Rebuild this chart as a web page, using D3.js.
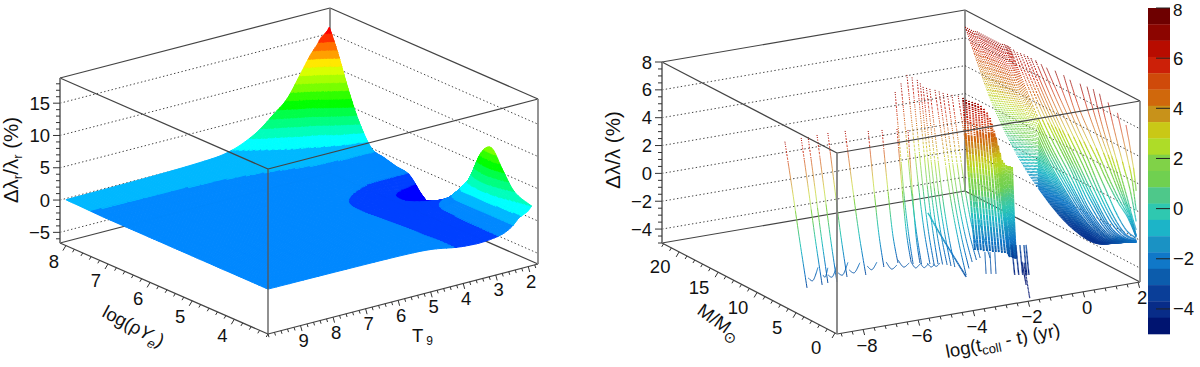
<!DOCTYPE html>
<html>
<head>
<meta charset="utf-8">
<script src="https://cdn.jsdelivr.net/npm/d3@7"></script>
<style>
	body { margin: 0; background: #fff; }
	text { font-family: "Liberation Sans", Arial, sans-serif; font-size: 18.5px; fill: #111; }
</style>
</head>
<body>
<script>
// ---------- left panel: surface ----------
var surfT = [1.9, 2.0, 2.15, 2.3, 2.5, 2.8, 3.2, 3.6, 4.2, 5, 6, 8, 10];
var surfRho = [3.2, 3.6, 3.9, 4.15, 4.4, 4.65, 4.9, 5.2, 5.5, 5.8, 6.1, 6.4, 6.7, 7.0, 7.3, 7.55, 7.8, 8.0];
var surfZ = [
	[2.6, 2.0, 1.6, 1.2, 0.2, -0.6, -0.95, -1.05, -0.8, -0.1, 0.15, 0.25, 0.3],
	[3.6, 2.9, 2.0, 1.2, 0.2, -0.6, -1.0, -1.1, -0.8, -0.1, 0.15, 0.25, 0.3],
	[6.4, 4.2, 2.6, 1.3, 0.2, -0.6, -1.05, -1.15, -0.85, -0.1, 0.15, 0.25, 0.3],
	[8.9, 5.5, 3.0, 1.4, 0.25, -0.6, -1.1, -1.2, -0.85, -0.1, 0.15, 0.25, 0.3],
	[7.4, 4.8, 2.7, 1.4, 0.25, -0.65, -1.15, -1.25, -0.9, -0.1, 0.15, 0.25, 0.3],
	[3.0, 2.4, 1.8, 1.1, 0.1, -0.75, -1.2, -1.3, -0.95, -0.1, 0.15, 0.25, 0.3],
	[-0.9, -0.7, -0.5, -0.55, -0.8, -1.1, -1.3, -1.35, -1.0, -0.1, 0.15, 0.25, 0.3],
	[-3.0, -2.4, -2.0, -1.8, -1.7, -1.6, -1.55, -1.45, -1.05, -0.15, 0.15, 0.25, 0.3],
	[-4.4, -3.6, -2.9, -2.5, -2.2, -1.9, -1.6, -1.4, -1.0, -0.15, 0.15, 0.25, 0.3],
	[-3.1, -2.7, -2.4, -2.2, -2.0, -1.75, -1.4, -1.15, -0.7, -0.1, 0.15, 0.25, 0.3],
	[-0.85, -0.85, -0.85, -0.85, -0.85, -0.85, -0.75, -0.55, -0.25, 0, 0.15, 0.25, 0.3],
	[-0.45, -0.4, -0.35, -0.3, -0.25, -0.2, -0.1, -0.05, 0.05, 0.1, 0.2, 0.25, 0.3],
	[0.1, 0.1, 0.05, 0.05, 0.05, 0.1, 0.15, 0.15, 0.18, 0.2, 0.22, 0.25, 0.3],
	[0.7, 0.7, 0.65, 0.6, 0.55, 0.5, 0.42, 0.38, 0.3, 0.25, 0.26, 0.28, 0.3],
	[4.0, 3.6, 3.0, 2.6, 2.2, 1.6, 1.25, 0.95, 0.6, 0.42, 0.35, 0.33, 0.33],
	[8.2, 7.4, 6.4, 5.4, 4.3, 3.0, 2.15, 1.7, 1.05, 0.55, 0.45, 0.4, 0.38],
	[13.2, 12.4, 11.1, 9.9, 8.2, 6.0, 4.4, 3.0, 1.8, 0.85, 0.6, 0.45, 0.42],
	[16.6, 15.9, 15.3, 14.2, 12.9, 10.4, 7.2, 5.4, 3.0, 1.3, 0.8, 0.55, 0.45]
];
var surfLevels = [-3.85, -1.85, -0.75, 0.35, 1.45, 2.55, 3.65, 4.75, 5.85, 6.95, 8.05, 9.15, 10.25, 11.35, 12.45, 13.55, 14.65, 15.75];
var surfColors = ["#3c00ff", "#0000ff", "#0040ff", "#0088ff", "#00b8ff", "#00ffff", "#00ffbc", "#00ff80", "#00ff48", "#00ff00",
	"#30ff00", "#78ff00", "#a8ff00", "#d8ff00", "#ffe800", "#ffa000", "#ff7000", "#ff3000", "#ff0000"];

// ---------- right panel: one row per curve ----------
// far group: t, top of mass range, then z at massFrac of that range
var massFrac = [1, 0.85, 0.7, 0.55, 0.4, 0.25, 0.12, 0];
var farRows = [
	[2.0, 21.9, 6.9, 2.6, -0.3, -2.2, -3.45, -3.8, -3.0, -2.1],
	[2.0, 21.65, 6.9, 2.65, -0.25, -2.15, -3.4, -3.78, -3.0, -2.1],
	[2.0, 21.4, 6.9, 2.7, -0.2, -2.1, -3.35, -3.75, -3.0, -2.1],
	[2.0, 21.15, 6.9, 2.75, -0.15, -2.05, -3.3, -3.72, -2.98, -2.1],
	[2.0, 20.9, 6.9, 2.8, -0.1, -2.0, -3.25, -3.7, -2.95, -2.1],
	[2.0, 20.65, 6.95, 2.85, -0.05, -1.95, -3.2, -3.68, -2.95, -2.1],
	[2.0, 20.4, 7.0, 2.9, 0.0, -1.9, -3.15, -3.65, -2.95, -2.1],
	[2.0, 20.15, 7.0, 2.95, 0.05, -1.85, -3.12, -3.62, -2.92, -2.1],
	[2.0, 19.9, 7.0, 3.0, 0.1, -1.8, -3.1, -3.6, -2.9, -2.1],
	[2.0, 19.65, 7.0, 3.05, 0.15, -1.75, -3.05, -3.58, -2.9, -2.1],
	[2.0, 19.4, 7.0, 3.1, 0.2, -1.7, -3.0, -3.55, -2.9, -2.1],
	[2.0, 19.15, 7.0, 3.15, 0.25, -1.65, -2.98, -3.52, -2.88, -2.12],
	[2.0, 18.9, 7.0, 3.2, 0.3, -1.6, -2.95, -3.5, -2.85, -2.15],
	[2.0, 18.65, 7.0, 3.25, 0.35, -1.55, -2.9, -3.45, -2.85, -2.15],
	[2.0, 18.4, 7.0, 3.3, 0.4, -1.5, -2.85, -3.4, -2.85, -2.15],
	[2.0, 18.15, 7.0, 3.35, 0.48, -1.42, -2.8, -3.35, -2.82, -2.15],
	[2.0, 17.9, 7.0, 3.4, 0.55, -1.35, -2.75, -3.3, -2.8, -2.15],
	[2.0, 17.65, 7.0, 3.45, 0.62, -1.28, -2.68, -3.25, -2.78, -2.18],
	[2.0, 17.4, 7.0, 3.5, 0.7, -1.2, -2.6, -3.2, -2.75, -2.2],
	[2.0, 17.15, 7.05, 3.6, 0.8, -1.1, -2.52, -3.15, -2.72, -2.2],
	[2.0, 16.9, 7.1, 3.7, 0.9, -1.0, -2.45, -3.1, -2.7, -2.2],
	[2.0, 16.72, 7.1, 3.85, 1.15, -0.75, -2.28, -3.02, -2.68, -2.2],
	[2.0, 16.55, 7.1, 4.0, 1.4, -0.5, -2.1, -2.95, -2.65, -2.2],
	[2.0, 16.38, 7.1, 4.15, 1.65, -0.25, -1.95, -2.88, -2.62, -2.2],
	[2.0, 16.2, 7.1, 4.3, 1.9, 0, -1.8, -2.8, -2.6, -2.2],
	[2.0, 15.75, 7.05, 4.45, 2.2, 0.3, -1.65, -2.7, -2.55, -2.2],
	[2.0, 15.3, 7.0, 4.6, 2.5, 0.6, -1.5, -2.6, -2.5, -2.2],
	[2.0, 14.85, 7.05, 4.7, 2.65, 0.75, -1.2, -2.45, -2.48, -2.2],
	[2.0, 14.4, 7.1, 4.8, 2.8, 0.9, -0.9, -2.3, -2.45, -2.2],
	[2.0, 13.95, 7.1, 4.9, 2.95, 1.1, -0.7, -2.15, -2.4, -2.15],
	[2.0, 13.5, 7.1, 5.0, 3.1, 1.3, -0.5, -2.0, -2.35, -2.1],
	[2.0, 12.9, 7.1, 5.1, 3.3, 1.6, -0.2, -1.7, -2.25, -2.1],
	[2.0, 12.2, 7.05, 5.2, 3.5, 1.85, 0.05, -1.45, -2.1, -2.05],
	[2.0, 11.5, 7.0, 5.3, 3.7, 2.1, 0.3, -1.2, -2.0, -2.0],
	[2.0, 10.4, 7.1, 5.2, 3.6, 2.2, 0.7, -0.8, -1.7, -1.9],
	[2.0, 9.3, 7.1, 5.0, 3.6, 2.4, 1.1, 0, -0.7, -1.8],
	[2.0, 8.5, 7.0, 5.2, 3.9, 2.6, 1.3, 0.2, -0.6, -1.8],
	[2.0, 7.2, 7.1, 5.35, 4.0, 2.75, 1.5, 0.35, -0.55, -1.75],
	[2.0, 6.3, 7.15, 5.45, 4.05, 2.85, 1.6, 0.45, -0.5, -1.7],
	[2.0, 5.5, 7.2, 5.5, 4.1, 2.9, 1.7, 0.5, -0.5, -1.7],
	[2.0, 4.7, 7.1, 5.6, 4.3, 3.1, 1.9, 0.7, -0.4, -1.3],
	[2.0, 3.6, 6.8, 5.6, 4.5, 3.5, 2.5, 1.6, 0.5, -0.7],
	[2.0, 2.4, 6.4, 5.6, 4.8, 4.0, 3.2, 2.4, 1.3, 0.1],
	[2.0, 1.3, 5.85, 5.3, 4.8, 4.2, 3.6, 3.0, 2.3, 1.5]
];
// other groups: t at top, t at bottom, M at top, M at bottom, then z evenly along the curve
var sparseRows = [
	[-8.9, -8.81, 6.61, 4.09, 6.8, 3.6, 0.2, -3.0],
	[-8.26, -8.24, 6.78, 4.16, 6.8, 3.5, 0.1, -3.0],
	[-8.02, -7.98, 6.74, 4.34, 6.8, 3.5, 0.1, -3.0],
	[-7.67, -7.68, 6.83, 4.24, 6.8, 3.4, 0, -3.0],
	[-7.27, -7.14, 6.85, 4.85, 6.8, 3.3, -0.1, -3.0],
	[-6.69, -6.52, 6.68, 4.62, 6.8, 3.2, -0.2, -3.0],
	[-6.06, -5.61, 5.94, 5.52, 6.8, 3.0, -0.5, -3.0],
	[-5.63, -5.01, 5.69, 5.83, 6.8, 2.8, -0.8, -3.0],
	[-5.17, -4.6, 5.39, 5.59, 6.8, 2.8, -0.8, -3.0],
	[-4.92, -4.41, 4.86, 5.13, 6.8, 2.7, -0.9, -3.0]
];
var tallRows = [
	[-3.42, -4.87, 11.8, 4.38, 7, 3.9, 0.9, -1.2, -2.7],
	[-2.81, -4.64, 13.2, 4.11, 7, 4.0, 1.0, -1.2, -2.7],
	[-2.2, -4.41, 14.59, 3.84, 7, 4.0, 1.0, -1.3, -2.7],
	[-2.19, -4.3, 13.97, 3.71, 7, 3.9, 0.9, -1.3, -2.7],
	[-2.18, -4.19, 13.34, 3.58, 7, 3.9, 0.9, -1.2, -2.7],
	[-2.28, -4.09, 12.6, 3.35, 7, 3.8, 0.8, -1.3, -2.7],
	[-2.39, -3.99, 11.85, 3.12, 7, 3.8, 0.8, -1.3, -2.7],
	[-2.35, -3.94, 11.55, 2.8, 7, 3.9, 0.9, -1.2, -2.7],
	[-2.31, -3.89, 11.26, 2.48, 7, 3.9, 0.9, -1.2, -2.7],
	[-2.22, -4.0, 10.92, 0.65, 7, 4.0, 1.0, -1.1, -2.7],
	[-2.19, -3.58, 10.5, 1.76, 7, 3.9, 0.9, -1.2, -2.7],
	[-2.16, -3.15, 10.1, 2.87, 7, 3.8, 0.8, -1.3, -2.7],
	[-2.09, -2.93, 9.78, 3.1, 7, 3.8, 0.8, -1.3, -2.7],
	[-2.02, -2.72, 9.45, 3.36, 7, 3.8, 0.8, -1.3, -2.7],
	[-1.9, -2.45, 9.07, 3.04, 7, 3.8, 0.8, -1.3, -2.7]
];
var denseRows = [
	[-2.14, -2.6, 7.61, 4.45, 7.36, 2.2, -2.49],
	[-2.06, -2.52, 7.51, 4.35, 7.22, 2.1, -2.49],
	[-1.98, -2.44, 7.42, 4.26, 7.15, 2.1, -2.49],
	[-1.89, -2.36, 7.32, 4.16, 7.08, 2.1, -2.56],
	[-1.81, -2.27, 7.23, 4.07, 7.0, 2.0, -2.56],
	[-1.73, -2.19, 7.13, 3.97, 6.94, 2.0, -2.56],
	[-1.65, -2.11, 7.04, 3.87, 6.79, 1.95, -2.63],
	[-1.57, -2.03, 6.94, 3.78, 6.58, 1.9, -2.63],
	[-1.48, -1.95, 6.85, 3.68, 6.3, 1.75, -2.63],
	[-1.4, -1.86, 6.75, 3.59, 5.92, 1.6, -2.7],
	[-1.35, -1.78, 6.69, 3.49, 5.5, 1.4, -2.7],
	[-1.29, -1.7, 6.62, 3.4, 5.0, 1.15, -2.77],
	[-1.24, -1.67, 6.56, 3.38, 4.5, 0.85, -2.84],
	[-1.18, -1.67, 6.5, 3.36, 3.93, 0.55, -2.92],
	[-1.13, -1.65, 6.43, 3.33, 3.42, 0.2, -3.0],
	[-1.07, -1.59, 6.37, 3.27, 2.9, -0.1, -3.0],
	[-1.02, -1.56, 6.3, 3.24, 2.7, -0.3, -3.05],
	[-0.96, -1.54, 6.24, 3.21, 2.54, -0.45, -3.05],
	[-0.91, -1.51, 6.18, 3.17, 2.47, -0.6, -3.1],
	[-0.86, -1.48, 6.11, 3.14, 2.47, -0.65, -3.1],
	[-0.8, -1.48, 6.05, 3.14, 2.4, -0.75, -3.1]
];
var wiggleRows = [
	[-8.62, -8.09, 4.6, 5.22, -2.5, -2.85, -2.1],
	[-8.06, -7.77, 4.69, 5.09, -2.5, -2.75, -2.2],
	[-7.92, -7.41, 4.53, 5.17, -2.5, -2.8, -2.1],
	[-7.54, -7.01, 4.58, 5.19, -2.5, -2.8, -2.1],
	[-7.08, -6.63, 4.79, 5.0, -2.5, -2.8, -2.2],
	[-6.38, -6.06, 4.95, 4.83, -2.5, -2.8, -2.3],
	[-5.65, -5.51, 5.09, 4.19, -2.5, -2.9, -2.5],
	[-5.22, -5.07, 5.08, 4.18, -2.5, -2.9, -2.5],
	[-4.97, -4.83, 4.29, 3.64, -2.5, -2.85, -2.5],
	[-4.77, -4.61, 3.83, 3.38, -2.5, -2.8, -2.5],
	[-4.58, -4.42, 3.6, 3.16, -2.5, -2.75, -2.5],
	[-4.48, -4.23, 3.22, 3.19, -2.5, -2.7, -2.5]
];
var boldRows = [
	[-3.39, -3.88, 7.69, 1.06, -0.5, -1.4, -2.2, -3.0]
];
var tailRows = [
	[-0.95, -1.5, 5.54, 3.23, -3.0, -3.7, -4.3],
	[-0.84, -1.39, 5.41, 3.1, -3.0, -3.7, -4.3],
	[-0.73, -1.28, 5.28, 2.98, -3.0, -3.7, -4.3],
	[-0.62, -1.17, 5.15, 2.85, -3.0, -3.7, -4.3],
	[-0.56, -1.11, 5.09, 2.78, -3.0, -3.7, -4.3],
	[-0.6, -1.79, 5.2, 0.28, -4.3, -4.7, -5.0],
	[-0.69, -1.2, 5.16, 2.82, -4.2, -4.6, -5.0]
];
var speckRows = [
	[-2.35, -3.18, 4.06, 0.98, -2.6, -2.8, -3.0],
	[-2.21, -3.04, 3.9, 0.82, -2.6, -2.8, -3.0],
	[-2.08, -2.91, 3.74, 0.66, -2.6, -2.8, -3.0]
];
var barColors = ["#6e0000", "#8c0500", "#b80c00", "#cc2008", "#cf4a0a", "#d0680c", "#c8921a", "#c9c816", "#aedc28", "#80d248",
	"#70d050", "#4ec88a", "#2fc8b0", "#1cb4c8", "#1a92c4", "#1078c8", "#0c5cac", "#0a3e98", "#082c88", "#001470"];
var barTicks = [8, 6, 4, 2, 0, -2, -4];

var leftZTicks = [-5, 0, 5, 10, 15];
var leftRhoTicks = [4, 5, 6, 7, 8];
var leftTTicks = [2, 3, 4, 5, 6, 7, 8, 9];
var rightZTicks = [-4, -2, 0, 2, 4, 6, 8];
var rightMTicks = [0, 5, 10, 15, 20];
var rightTTicks = [-8, -6, -4, -2, 0, 2];

var svg = d3.select("body")
	.append("svg")
	.attr("width", 1200)
	.attr("height", 367);

var fmt = function (v) { return String(v).replace("-", "\u2212"); };

//3-axis projection: two ground axes plus height, all plain scales
var makeProject = function (fx, fy, aDom, aVec, bDom, bVec, zDom, zPx) {
	var ax = d3.scaleLinear().domain(aDom).range([0, aVec[0]]),
		ay = d3.scaleLinear().domain(aDom).range([0, aVec[1]]),
		bx = d3.scaleLinear().domain(bDom).range([0, bVec[0]]),
		by = d3.scaleLinear().domain(bDom).range([0, bVec[1]]),
		zy = d3.scaleLinear().domain(zDom).range([0, -zPx]);
	return function (a, b, z) {
		return [fx + ax(a) + bx(b), fy + ay(a) + by(b) + zy(z)];
	};
};

var line = function (g, p, q, color, w, dash) {
	g.append("line")
		.attr("x1", p[0]).attr("y1", p[1])
		.attr("x2", q[0]).attr("y2", q[1])
		.attr("stroke", color)
		.attr("stroke-width", w)
		.attr("stroke-dasharray", dash || null);
};

var drawBack = function (g, o) {
	var P = o.project, a0 = o.aDom[0], a1 = o.aDom[1], b0 = o.bDom[0], b1 = o.bDom[1], zb = o.zDom[0], zt = o.zDom[1];
	line(g, P(a0, b1, zb), P(a1, b1, zb), "#444", 1.2);
	line(g, P(a1, b1, zb), P(a1, b0, zb), "#444", 1.2);
	line(g, P(a0, b1, zt), P(a1, b1, zt), "#444", 1.2);
	line(g, P(a1, b1, zt), P(a1, b0, zt), "#444", 1.2);
	line(g, P(a1, b1, zb), P(a1, b1, zt), "#777", 1.6);
	o.zTicks.forEach(function (v) {
		if (v >= zt) return;
		line(g, P(a0, b1, v), P(a1, b1, v), "#444", 1, "1.4,2.4");
		line(g, P(a1, b1, v), P(a1, b0, v), "#444", 1, "1.4,2.4");
	});
};

var drawFront = function (g, o) {
	var P = o.project, a0 = o.aDom[0], a1 = o.aDom[1], b0 = o.bDom[0], b1 = o.bDom[1], zb = o.zDom[0], zt = o.zDom[1];
	line(g, P(a0, b1, zb), P(a0, b0, zb), "#444", 1.2);
	line(g, P(a0, b0, zb), P(a1, b0, zb), "#444", 1.2);
	line(g, P(a0, b1, zt), P(a0, b0, zt), "#444", 1.2);
	line(g, P(a0, b0, zt), P(a1, b0, zt), "#444", 1.2);
	line(g, P(a0, b0, zb), P(a0, b0, zt), o.frontColor, o.frontWidth);
	line(g, P(a0, b1, zb), P(a0, b1, zt), "#777", 1.8);
	line(g, P(a1, b0, zb), P(a1, b0, zt), "#888", 1.8);

	//height ticks
	d3.range(Math.ceil(zb / o.zMinor), Math.floor(zt / o.zMinor) + 1).forEach(function (k) {
		var v = k * o.zMinor, p = P(a0, b1, v), major = o.zTicks.indexOf(v) >= 0;
		line(g, p, [p[0] - (major ? 7 : 4), p[1]], "#333", 1);
	});
	o.zTicks.forEach(function (v) {
		var p = P(a0, b1, v);
		g.append("text").attr("x", p[0] - 10).attr("y", p[1] + 6.5)
			.attr("text-anchor", "end").text(fmt(v));
	});

	//ground axis b (left edge)
	d3.range(Math.ceil(Math.min(b0, b1) / o.bMinor), Math.floor(Math.max(b0, b1) / o.bMinor) + 1).forEach(function (k) {
		var v = k * o.bMinor, p = P(a0, v, zb), major = o.bTicks.indexOf(+v.toFixed(3)) >= 0;
		line(g, p, [p[0] - (major ? 3 : 1.8), p[1] + (major ? 5 : 3)], "#333", 1);
	});
	o.bTicks.forEach(function (v) {
		var p = P(a0, v, zb);
		g.append("text").attr("x", p[0] + o.bLabel[0]).attr("y", p[1] + o.bLabel[1] + 6.5)
			.attr("text-anchor", "middle").text(fmt(v));
	});

	//ground axis a (right edge)
	d3.range(Math.ceil(Math.min(a0, a1) / o.aMinor), Math.floor(Math.max(a0, a1) / o.aMinor) + 1).forEach(function (k) {
		var v = k * o.aMinor, p = P(v, b0, zb), major = o.aTicks.indexOf(+v.toFixed(3)) >= 0;
		line(g, p, [p[0] + (major ? 1.5 : 1), p[1] + (major ? 5.5 : 3.2)], "#333", 1);
	});
	o.aTicks.forEach(function (v) {
		var p = P(v, b0, zb);
		g.append("text").attr("x", p[0] + o.aLabel[0]).attr("y", p[1] + o.aLabel[1] + 6.5)
			.attr("text-anchor", "middle").text(fmt(v));
	});
};

//catmull-rom through the read values, only used to smooth drawing
var smooth = function (v, u) {
	var n = v.length - 1,
		i = Math.max(0, Math.min(n - 1, Math.floor(u))),
		s = u - i,
		p0 = v[Math.max(0, i - 1)], p1 = v[i], p2 = v[i + 1], p3 = v[Math.min(n, i + 2)];
	return 0.5 * (2 * p1 + (p2 - p0) * s + (2 * p0 - 5 * p1 + 4 * p2 - p3) * s * s + (3 * p1 - p0 - 3 * p2 + p3) * s * s * s);
};

// ---------- left panel ----------
var leftOpts = {
	aDom: [10, 1.7], bDom: [3.2, 8.14], zDom: [-6.65, 18.9],
	zTicks: leftZTicks, zMinor: 1, bTicks: leftRhoTicks, bMinor: 0.2, aTicks: leftTTicks, aMinor: 0.2,
	bLabel: [-12, 16], aLabel: [3, 15], frontColor: "#555", frontWidth: 1.3
};
leftOpts.project = makeProject(268, 334, leftOpts.aDom, [270, -70], leftOpts.bDom, [-208, -91], leftOpts.zDom, 165);

var leftG = svg.append("g");
drawBack(leftG, leftOpts);

var surfG = leftG.append("g");

var clipBand = function (poly, lo, hi) {
	var cut = function (pts, keep, level) {
		var out = [];
		pts.forEach(function (p, i) {
			var q = pts[(i + 1) % pts.length], pin = keep(p[2]), qin = keep(q[2]);
			if (pin) out.push(p);
			if (pin !== qin) {
				var f = (level - p[2]) / (q[2] - p[2]);
				out.push([p[0] + f * (q[0] - p[0]), p[1] + f * (q[1] - p[1]), level]);
			}
		});
		return out;
	};
	var res = poly;
	if (lo !== null) res = cut(res, function (z) { return z >= lo; }, lo);
	if (res.length && hi !== null) res = cut(res, function (z) { return z <= hi; }, hi);
	return res;
};

var drawPoly = function (pts, color) {
	surfG.append("path")
		.attr("d", d3.line()(pts.map(function (p) { return leftOpts.project(p[0], p[1], p[2]); })) + "Z")
		.attr("fill", color)
		.attr("stroke", color)
		.attr("stroke-width", 1)
		.attr("stroke-linejoin", "round");
};

var sub = 5,
	nT = (surfT.length - 1) * sub + 1,
	nR = (surfRho.length - 1) * sub + 1;

var fineT = d3.range(nT).map(function (i) { return smooth(surfT, i / sub); });
var fineR = d3.range(nR).map(function (j) { return smooth(surfRho, j / sub); });
var fineZ = d3.range(nR).map(function (j) {
	//smooth along T on the read rows, then across rows
	var u = j / sub;
	return d3.range(nT).map(function (i) {
		var col = surfZ.map(function (row) { return smooth(row, i / sub); });
		return smooth(col, u);
	});
});

//painter's order: far corner (high rho, low T) first
for (var j = nR - 2; j >= 0; j--) {
	for (var i = 0; i < nT - 1; i++) {
		var a = [fineT[i], fineR[j], fineZ[j][i]],
			b = [fineT[i + 1], fineR[j], fineZ[j][i + 1]],
			c = [fineT[i + 1], fineR[j + 1], fineZ[j + 1][i + 1]],
			d = [fineT[i], fineR[j + 1], fineZ[j + 1][i]];
		var zs = [a[2], b[2], c[2], d[2]],
			bLo = d3.bisectRight(surfLevels, d3.min(zs)),
			bHi = d3.bisectRight(surfLevels, d3.max(zs));
		if (bLo === bHi) {
			drawPoly([a, b, c, d], surfColors[bLo]);
			continue;
		}
		[[a, b, c], [a, c, d]].forEach(function (tri) {
			for (var k = bLo; k <= bHi; k++) {
				var pts = clipBand(tri, k === 0 ? null : surfLevels[k - 1], k === surfLevels.length ? null : surfLevels[k]);
				if (pts.length > 2) drawPoly(pts, surfColors[k]);
			}
		});
	}
}
drawFront(leftG, leftOpts);

// ---------- right panel ----------
var rightOpts = {
	aDom: [-8.95, 2.07], bDom: [-0.25, 22.2], zDom: [-5, 8],
	zTicks: rightZTicks, zMinor: 0.5, bTicks: rightMTicks, bMinor: 1, aTicks: rightTTicks, aMinor: 0.4,
	bLabel: [-19, 15], aLabel: [4, 15.5], frontColor: "#808080", frontWidth: 1.8
};
rightOpts.project = makeProject(837, 334, rightOpts.aDom, [303, -52], rightOpts.bDom, [-175, -91], rightOpts.zDom, 181);

var rightG = svg.append("g");
drawBack(rightG, rightOpts);

var barY = d3.scaleLinear().domain([8, -5]).range([8, 334]);
var bandW = 13 / barColors.length;
var zColor = d3.scaleLinear()
	.domain(barColors.map(function (c, i) { return 8 - (i + 0.5) * bandW; }).reverse())
	.range(barColors.slice().reverse())
	.clamp(true);

var curveG = rightG.append("g").attr("fill", "none").attr("stroke-linecap", "butt");

var drawCurve = function (t, m, z, style) {
	var steps = (t.length - 1) * 14, prev = null;
	d3.range(steps + 1).forEach(function (s) {
		var u = s / 14,
			pt = { t: smooth(t, u), m: smooth(m, u), z: smooth(z, u) },
			xy = rightOpts.project(pt.t, pt.m, pt.z);
		if (prev) {
			var dotted = style.dotted(pt);
			curveG.append("line")
				.attr("x1", prev[0]).attr("y1", prev[1])
				.attr("x2", xy[0]).attr("y2", xy[1])
				.attr("stroke", zColor(pt.z))
				.attr("stroke-width", dotted ? style.dotWidth : (pt.z > style.thinAbove ? style.thinWidth : style.width))
				.attr("stroke-opacity", dotted ? 1 : (pt.z > style.thinAbove ? style.thinOpacity : 1))
				.attr("stroke-dasharray", dotted ? style.dash : null);
		}
		prev = xy;
	});
};

//rows holding top and bottom of t and M, z evenly spaced along the curve
var drawRows = function (rows, style) {
	rows.forEach(function (r) {
		var z = r.slice(4), last = z.length - 1;
		var t = z.map(function (v, i) { return r[0] + (r[1] - r[0]) * i / last; });
		var m = z.map(function (v, i) { return r[2] + (r[3] - r[2]) * i / last; });
		drawCurve(t, m, z, style);
	});
};

var never = function () { return false; };

farRows.slice().reverse().forEach(function (r) {
	var t = massFrac.map(function () { return r[0]; });
	var m = massFrac.map(function (f) { return r[1] * f; });
	drawCurve(t, m, r.slice(2), {
		width: 1.2, thinAbove: 3, thinWidth: 0.9, thinOpacity: 0.8, dotWidth: 1.1, dash: "1,1.3",
		dotted: function (p) { return p.m > 12.5; }
	});
});
drawRows(sparseRows, { width: 1, thinAbove: 2, thinWidth: 0.9, thinOpacity: 0.75, dotWidth: 1, dash: "1,1.5", dotted: function (p) { return p.z > 5.3; } });
drawRows(wiggleRows, { width: 1, thinAbove: 9, thinWidth: 1, thinOpacity: 1, dotWidth: 1, dash: null, dotted: never });
drawRows(tallRows, { width: 1, thinAbove: 1, thinWidth: 0.9, thinOpacity: 0.85, dotWidth: 1, dash: "1,1.5", dotted: function (p) { return p.z > 2.6; } });
drawRows(boldRows, { width: 1.5, thinAbove: 9, thinWidth: 1, thinOpacity: 1, dotWidth: 1, dash: null, dotted: never });
drawRows(speckRows, { width: 1, thinAbove: 9, thinWidth: 1, thinOpacity: 1, dotWidth: 1, dash: "1,1.6", dotted: function () { return true; } });
drawRows(denseRows, { width: 2, thinAbove: 9, thinWidth: 2, thinOpacity: 1, dotWidth: 1.8, dash: "1.2,0.9", dotted: function (p) { return p.z > 4.8; } });
drawRows(tailRows, { width: 1.4, thinAbove: 9, thinWidth: 1, thinOpacity: 1, dotWidth: 1.2, dash: "1,1.5", dotted: function (p) { return p.z < -4.6; } });
drawFront(rightG, rightOpts);

// ---------- colour bar ----------
var barG = svg.append("g");
barColors.forEach(function (c, i) {
	barG.append("rect")
		.attr("x", 1148).attr("width", 22)
		.attr("y", barY(8 - i * bandW))
		.attr("height", barY(8 - (i + 1) * bandW) - barY(8 - i * bandW) + 0.3)
		.attr("fill", c);
});
barTicks.forEach(function (v) {
	line(barG, [1156, barY(v)], [1170, barY(v)], "#222", 1);
	//top label sits right under the window edge, so it gets a slightly smaller size
	barG.append("text")
		.attr("x", 1173)
		.attr("y", v === 8 ? 15.5 : barY(v) + 6.5)
		.style("font-size", v === 8 ? "17px" : null)
		.text(fmt(v));
});

// ---------- axis titles ----------
var titleL = svg.append("text").attr("text-anchor", "middle").attr("transform", "translate(18,160) rotate(-90)").style("font-size", "20.5px");
titleL.append("tspan").text("\u0394\u03bb");
titleL.append("tspan").attr("dy", 4).style("font-size", "13px").text("r");
titleL.append("tspan").attr("dy", -4).text("/\u03bb");
titleL.append("tspan").attr("dy", 4).style("font-size", "13px").text("r");
titleL.append("tspan").attr("dy", -4).text(" (%)");

var titleRho = svg.append("text").attr("transform", "translate(101,316) rotate(28)");
titleRho.append("tspan").text("log(\u03c1");
titleRho.append("tspan").style("font-style", "italic").text("Y");
titleRho.append("tspan").attr("dy", 5).style("font-size", "13px").style("font-style", "italic").text("e");
titleRho.append("tspan").attr("dy", -5).text(")");

var titleT = svg.append("text").attr("x", 412).attr("y", 342);
titleT.append("tspan").text("T");
titleT.append("tspan").attr("dx", 3).attr("dy", 3).style("font-size", "12px").text("9");

svg.append("text").attr("text-anchor", "middle").attr("transform", "translate(620,150) rotate(-90)")
	.style("font-size", "20.5px")
	.text("\u0394\u03bb/\u03bb (%)");

var titleM = svg.append("text").attr("transform", "translate(696,313) rotate(36)");
titleM.append("tspan").text("M/M");
titleM.append("tspan").attr("dy", 5).style("font-size", "15px").text("\u2299");

var titleX = svg.append("text").attr("transform", "translate(947,358) rotate(-11)");
titleX.append("tspan").text("log(t");
titleX.append("tspan").attr("dy", 4).style("font-size", "13px").text("coll");
titleX.append("tspan").attr("dy", -4).text(" - t) (yr)");
</script>
</body>
</html>
